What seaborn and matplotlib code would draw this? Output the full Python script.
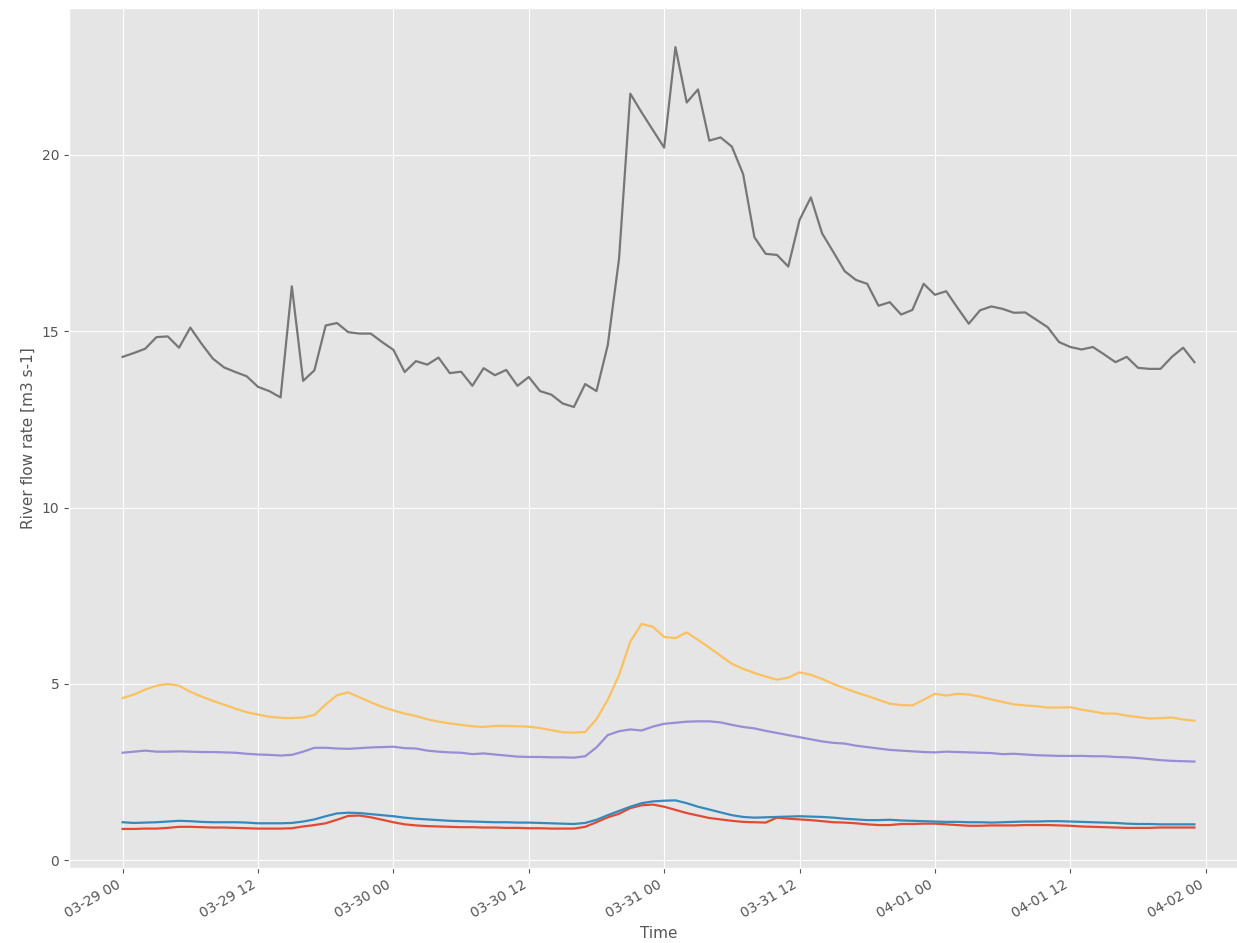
import numpy as np
import pandas as pd
import matplotlib
matplotlib.use("Agg")
import matplotlib.pyplot as plt
import matplotlib.dates as mdates
import seaborn as sns

# Hourly river flow rates [m3 s-1] at five gauges, 2019-03-29 00:00 to 2019-04-01 23:00
start = "2019-03-29 00:00"
n_hours = 96

gauge_a = [0.89, 0.89, 0.90, 0.90, 0.92, 0.95, 0.95, 0.94, 0.93, 0.93, 0.92, 0.91,
           0.90, 0.90, 0.90, 0.91, 0.96, 1.00, 1.05, 1.15, 1.26, 1.27, 1.22, 1.15,
           1.08, 1.02, 0.99, 0.97, 0.96, 0.95, 0.94, 0.94, 0.93, 0.93, 0.92, 0.92,
           0.91, 0.91, 0.90, 0.90, 0.90, 0.95, 1.08, 1.22, 1.32, 1.48, 1.56, 1.58,
           1.52, 1.43, 1.34, 1.27, 1.20, 1.16, 1.12, 1.09, 1.08, 1.07, 1.21, 1.18,
           1.16, 1.14, 1.11, 1.08, 1.07, 1.05, 1.02, 1.00, 1.00, 1.03, 1.03, 1.04,
           1.04, 1.02, 1.00, 0.98, 0.98, 0.99, 0.99, 0.99, 1.00, 1.00, 1.00, 0.99,
           0.98, 0.96, 0.95, 0.94, 0.93, 0.92, 0.92, 0.92, 0.93, 0.93, 0.93, 0.93]

gauge_b = [1.08, 1.06, 1.07, 1.08, 1.10, 1.12, 1.11, 1.09, 1.08, 1.08, 1.08, 1.07,
           1.05, 1.05, 1.05, 1.06, 1.10, 1.16, 1.25, 1.33, 1.35, 1.34, 1.31, 1.28,
           1.25, 1.21, 1.18, 1.16, 1.14, 1.12, 1.11, 1.10, 1.09, 1.08, 1.08, 1.07,
           1.07, 1.06, 1.05, 1.04, 1.03, 1.06, 1.15, 1.28, 1.40, 1.52, 1.62, 1.67,
           1.69, 1.70, 1.62, 1.52, 1.44, 1.36, 1.28, 1.23, 1.21, 1.22, 1.23, 1.24,
           1.25, 1.24, 1.23, 1.21, 1.18, 1.16, 1.14, 1.14, 1.15, 1.13, 1.12, 1.11,
           1.10, 1.09, 1.09, 1.08, 1.08, 1.07, 1.08, 1.09, 1.10, 1.10, 1.11, 1.11,
           1.10, 1.09, 1.08, 1.07, 1.06, 1.04, 1.03, 1.03, 1.02, 1.02, 1.02, 1.02]

gauge_c = [3.05, 3.08, 3.11, 3.08, 3.08, 3.09, 3.08, 3.07, 3.07, 3.06, 3.05, 3.02,
           3.00, 2.99, 2.97, 2.99, 3.08, 3.19, 3.19, 3.17, 3.16, 3.18, 3.20, 3.21,
           3.22, 3.18, 3.17, 3.11, 3.08, 3.06, 3.05, 3.01, 3.03, 3.00, 2.97, 2.94,
           2.93, 2.93, 2.92, 2.92, 2.91, 2.95, 3.20, 3.55, 3.66, 3.71, 3.68, 3.79,
           3.87, 3.90, 3.93, 3.94, 3.94, 3.91, 3.84, 3.78, 3.74, 3.67, 3.61, 3.55,
           3.49, 3.43, 3.37, 3.33, 3.31, 3.25, 3.21, 3.17, 3.13, 3.11, 3.09, 3.07,
           3.06, 3.08, 3.07, 3.06, 3.05, 3.04, 3.01, 3.02, 3.00, 2.98, 2.97, 2.96,
           2.96, 2.96, 2.95, 2.95, 2.93, 2.92, 2.90, 2.87, 2.84, 2.82, 2.81, 2.80]

gauge_d = [14.27, 14.38, 14.50, 14.83, 14.85, 14.53, 15.10, 14.64, 14.22, 13.97, 13.84, 13.72,
           13.42, 13.30, 13.12, 16.27, 13.59, 13.89, 15.16, 15.23, 14.97, 14.93, 14.93, 14.69,
           14.47, 13.84, 14.15, 14.05, 14.25, 13.81, 13.85, 13.45, 13.95, 13.75, 13.90, 13.45,
           13.70, 13.30, 13.20, 12.95, 12.85, 13.50, 13.30, 14.60, 17.05, 21.73, 21.20, 20.70,
           20.20, 23.05, 21.48, 21.85, 20.40, 20.49, 20.23, 19.45, 17.66, 17.19, 17.16, 16.83,
           18.15, 18.79, 17.77, 17.24, 16.70, 16.45, 16.34, 15.72, 15.82, 15.47, 15.60, 16.34,
           16.03, 16.13, 15.66, 15.21, 15.59, 15.70, 15.63, 15.52, 15.53, 15.32, 15.11, 14.69,
           14.55, 14.48, 14.55, 14.34, 14.12, 14.27, 13.96, 13.93, 13.93, 14.27, 14.53, 14.12]

gauge_e = [4.60, 4.70, 4.84, 4.95, 5.00, 4.95, 4.78, 4.64, 4.52, 4.41, 4.30, 4.20,
           4.13, 4.07, 4.04, 4.03, 4.05, 4.12, 4.42, 4.68, 4.76, 4.62, 4.48, 4.35,
           4.25, 4.16, 4.09, 4.00, 3.93, 3.88, 3.84, 3.80, 3.78, 3.81, 3.81, 3.80,
           3.79, 3.75, 3.69, 3.63, 3.62, 3.64, 4.00, 4.55, 5.25, 6.20, 6.70, 6.62,
           6.33, 6.30, 6.46, 6.25, 6.03, 5.80, 5.57, 5.43, 5.31, 5.21, 5.12, 5.18,
           5.33, 5.26, 5.14, 5.00, 4.88, 4.76, 4.66, 4.55, 4.44, 4.40, 4.39, 4.55,
           4.72, 4.67, 4.72, 4.70, 4.64, 4.56, 4.49, 4.42, 4.39, 4.37, 4.33, 4.33,
           4.34, 4.27, 4.22, 4.16, 4.16, 4.10, 4.06, 4.02, 4.03, 4.05, 3.99, 3.96]

gauges = ["gauge_a", "gauge_b", "gauge_c", "gauge_d", "gauge_e"]
series = [gauge_a, gauge_b, gauge_c, gauge_d, gauge_e]

times = pd.date_range(start, periods=n_hours, freq="h")
df = pd.DataFrame({name: vals for name, vals in zip(gauges, series)}, index=times)
df.index.name = "Time"
long_df = df.reset_index().melt(id_vars="Time", var_name="gauge",
                                value_name="River flow rate [m3 s-1]")

plt.style.use("ggplot")
palette = ["#E24A33", "#348ABD", "#988ED5", "#777777", "#FBC15E"]

fig = plt.figure(figsize=(12.37, 9.43), dpi=100)
ax = fig.add_axes([0.0558, 0.0795, 0.9531, 0.912])

sns.lineplot(data=long_df, x="Time", y="River flow rate [m3 s-1]", hue="gauge",
             palette=palette, linewidth=1.6, legend=False, ax=ax)

ax.xaxis.set_major_locator(mdates.HourLocator(byhour=[0, 12]))
ax.xaxis.set_major_formatter(mdates.DateFormatter("%m-%d %H"))
for lab in ax.get_xticklabels():
    lab.set_rotation(30)
    lab.set_ha("right")

ax.set_yticks([0, 5, 10, 15, 20])
ax.tick_params(labelsize=10)
ax.set_xlabel("Time", fontsize=11)
ax.set_ylabel("River flow rate [m3 s-1]", fontsize=11)

fig.savefig("out.png", dpi=100)
